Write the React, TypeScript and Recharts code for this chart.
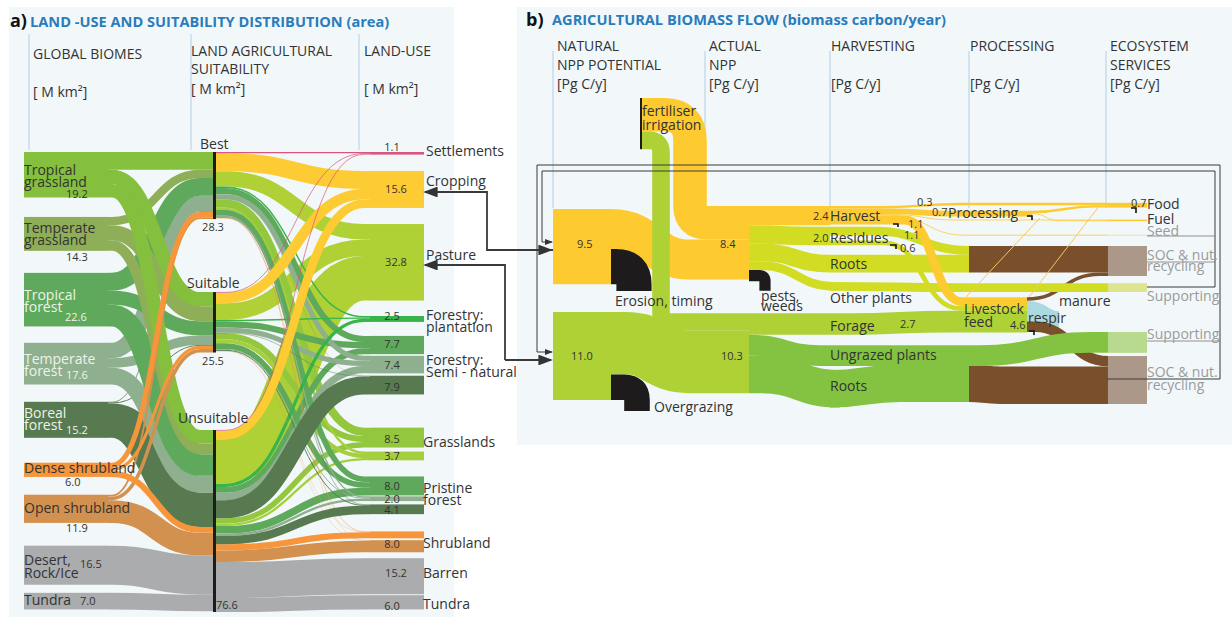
import { Sankey } from "recharts";

// ---- panel a: land use and suitability (M km2) ----
const biomes = [
  "Tropical grassland", "Temperate grassland", "Tropical forest", "Temperate forest",
  "Boreal forest", "Dense shrubland", "Open shrubland", "Desert", "Tundra",
];
const biomeToBest = [7.5, 3.5, 7.5, 6.5, 0.3, 2.2, 0.8, 0, 0];
const biomeToSuitable = [6.0, 6.3, 6.0, 4.0, 0.4, 1.3, 1.5, 0, 0];
const biomeToUnsuitable = [5.7, 4.5, 9.1, 7.1, 14.5, 2.5, 9.6, 16.5, 7.0];

const landUses = [
  "Settlements", "Cropping", "Pasture", "Plantation", "Managed tropical", "Managed temperate",
  "Managed boreal", "Grasslands", "Grasslands 2", "Pristine tropical", "Pristine temperate",
  "Pristine boreal", "Dense shrub", "Open shrub", "Barren", "Tundra land",
];
const bestToUse = [0.5, 7.6, 6.5, 0.6, 2.6, 2.1, 0.1, 3.5, 1.0, 2.4, 0.6, 0.2, 0.2, 0.1, 0, 0];
const suitableToUse = [0.3, 4.4, 7.0, 0.6, 2.6, 2.2, 0.2, 2.6, 1.7, 2.4, 0.4, 0.4, 0.1, 0.1, 0, 0];
const unsuitableToUse = [0.3, 3.6, 18.8, 1.3, 2.5, 3.1, 7.6, 2.3, 1.0, 3.2, 1.0, 3.5, 2.6, 4.9, 15.2, 6.0];

// numbers in a column are blank space, drawn as invisible nodes
const landColumns: (string | number)[][] = [
  ["Tropical grassland", 8.2, "Temperate grassland", 9.3, "Tropical forest", 6.9, "Temperate forest", 7.3,
    "Boreal forest", 10.5, "Dense shrubland", 7.5, "Open shrubland", 9.6, "Desert", 3.4, "Tundra"],
  ["Best", 30.8, "Suitable", 32.7, "Unsuitable"],
  ["Settlements", 6.9, "Cropping", 6.8, "Pasture", 6.5, "Plantation", 5.9, "Managed tropical", 0.7,
    "Managed temperate", 1, "Managed boreal", 14, "Grasslands", 1.7, "Grasslands 2", 6.8, "Pristine tropical", 0.4,
    "Pristine temperate", 1.4, "Pristine boreal", 7.3, "Dense shrub", 0.8, "Open shrub", 2.5, "Barren", 0.4, "Tundra land"],
];

const landTint: Record<string, string> = {
  "Tropical grassland": "#84bf3d", "Temperate grassland": "#8fae58", "Tropical forest": "#5fa95c",
  "Temperate forest": "#8eb08e", "Boreal forest": "#587a50", "Dense shrubland": "#f7953b",
  "Open shrubland": "#d3914f", Desert: "#aaacae", Tundra: "#aaacae",
  Best: "#1d1d1b", Suitable: "#1d1d1b", Unsuitable: "#1d1d1b",
  Settlements: "#d9547f", Cropping: "#fdcb33", Pasture: "#afd135", Plantation: "#38b44a",
  "Managed tropical": "#5fa95c", "Managed temperate": "#8eb08e", "Managed boreal": "#587a50",
  Grasslands: "#93c83e", "Grasslands 2": "#a5cf3c", "Pristine tropical": "#5fa95c",
  "Pristine temperate": "#8eb08e", "Pristine boreal": "#587a50", "Dense shrub": "#f7953b",
  "Open shrub": "#d3914f", Barren: "#aaacae", "Tundra land": "#aaacae",
};

const landFlows: [string, string, number][] = [
  ...[7, 8, 4, 3, 2, 1, 0, 6, 5].flatMap((b) => [
    [biomes[b], "Best", biomeToBest[b]],
    [biomes[b], "Suitable", biomeToSuitable[b]],
    [biomes[b], "Unsuitable", biomeToUnsuitable[b]],
  ] as [string, string, number][]),
  ...[14, 15, 2, 7, 8, 4, 5, 9, 10, 3, 13, 12, 11, 6, 1, 0].flatMap((u) => [
    ["Best", landUses[u], bestToUse[u]],
    ["Suitable", landUses[u], suitableToUse[u]],
    ["Unsuitable", landUses[u], unsuitableToUse[u]],
  ] as [string, string, number][]),
];

// ---- panel b: biomass flow (Pg C/y) ----
const hair = 0.001;
const biomassFlows: [string, string, number][] = [
  ["Fertiliser source", "Fertiliser", hair],
  ["Natural crop", "Actual crop", 5.0],
  ["Natural crop", "Erosion", 4.4],
  ["Natural pasture", "Actual pasture", 7.8],
  ["Natural pasture", "Overgrazing", 3.2],
  ["Fertiliser", "Actual crop", 4.2],
  ["Fertiliser", "Actual pasture", 2.2],
  ["Actual crop", "Harvest", 2.4],
  ["Actual crop", "Residues", 2.3],
  ["Actual crop", "Crop roots", 2.2],
  ["Actual crop", "Other plants", 1.1],
  ["Actual crop", "Pests", 1.4],
  ["Actual pasture", "Forage", 2.7],
  ["Actual pasture", "Ungrazed", 2.6],
  ["Actual pasture", "Pasture roots", 4.7],
  ["Livestock", "Respir", 2.6],
  ["Brown top", "SOC top", 3.3],
  ["Brown bottom", "SOC bottom", 4.7],
  ["Livestock", "SOC top", 0.45],
  ["Livestock", "SOC bottom", 1.3],
  ["Crop roots", "Brown top", 2.2],
  ["Residues", "Brown top", 1.1],
  ["Residues", "Residue loss", 0.6],
  ["Residues", "Livestock", 0.6],
  ["Forage", "Livestock", 2.7],
  ["Pasture roots", "Brown bottom", 4.7],
  ["Other plants", "Supporting crop", 1.1],
  ["Ungrazed", "Supporting natural", 2.6],
  ["Harvest", "Livestock", 1.1],
  ["Harvest", "Food", 0.3],
  ["Harvest", "Processing", 0.7],
  ["Harvest", "Fuel", 0.1],
  ["Harvest", "Seed", 0.1],
  ["Processing", "Food", 0.3],
  ["Processing", "Fuel", 0.1],
  ["Processing", "Seed", hair],
  ["Brown top", "Supporting crop", hair],
  ["Brown bottom", "Supporting natural", hair],
];

const biomassColumns: (string | number)[][] = [
  ["Fertiliser source", 13.875, "Natural crop", 3.475, "Natural pasture"],
  ["Fertiliser", 17.725, "Erosion", 10.6, "Overgrazing"],
  [13.5, "Actual crop", 4.0, "Actual pasture"],
  [13.5, "Harvest", 0.2, "Residues", 1.2, "Crop roots", 1.2, "Other plants", "Pests", 1.4, "Forage", 1.3,
    "Ungrazed", 0.5, "Pasture roots"],
  [14.1, "Processing", 3.7, "Brown top", "Residue loss", 2.5, "Livestock", 4, "Brown bottom"],
  [13.1, "Food", 1.5, "Fuel", 1.7, "Seed", 1.3, "SOC top", 0.9, "Supporting crop", 2.4, "Respir",
    "Supporting natural", 0.4, "SOC bottom"],
];

const yellow = "#fdca30";
const limeGreen = "#aed136";
const cropGreen = "#d2dc22";
const grassGreen = "#84c341";
const brown = "#7a4f2b";
const ink = "#1d1b1b";
const biomassTint: Record<string, string> = {
  "Natural crop": yellow, "Natural pasture": limeGreen, Fertiliser: ink, Erosion: ink, Overgrazing: ink, Pests: ink,
  "Actual crop": yellow, "Actual pasture": limeGreen, Harvest: yellow, Residues: cropGreen, "Crop roots": cropGreen,
  "Other plants": cropGreen, Forage: limeGreen, Ungrazed: grassGreen, "Pasture roots": grassGreen,
  Processing: yellow, "Brown top": brown, "Brown bottom": brown, Livestock: brown, Respir: "#acd9e0",
  Food: yellow, Fuel: yellow, Seed: "#f3d98c", "SOC top": "#ab9888", "SOC bottom": "#ab9888",
  "Supporting crop": "#dde58f", "Supporting natural": "#b7da8e",
};

// sankey data: blank space becomes invisible nodes linked column to column
function buildSankey(columns: (string | number)[][], flows: [string, string, number][], scale: number) {
  const gapSums = columns.map((col) =>
    col.reduce<number>((sum, e) => (typeof e === "number" ? sum + e : sum), 0),
  );
  const maxGap = Math.max(...gapSums);
  const filled = columns.map((col, c) => (maxGap - gapSums[c] > 1e-6 ? [...col, maxGap - gapSums[c]] : col));

  const nodes: { name: string; gap?: boolean }[] = [];
  const gaps: { id: number; size: number }[][] = [];
  const ids = new Map<string, number>();
  filled.forEach((col, c) => {
    gaps[c] = [];
    col.forEach((entry, i) => {
      const id = nodes.length;
      if (typeof entry === "number") {
        nodes.push({ name: `gap-${c}-${i}`, gap: true });
        gaps[c].push({ id, size: entry });
      } else {
        nodes.push({ name: entry });
        ids.set(entry, id);
      }
    });
  });

  const links: { source: number; target: number; value: number }[] = flows
    .filter((f) => f[2] > 0)
    .map(([s, t, value]) => ({ source: ids.get(s)!, target: ids.get(t)!, value }));

  for (let c = 0; c + 1 < gaps.length; c++) {
    const from = gaps[c];
    const to = gaps[c + 1];
    let i = 0;
    let j = 0;
    let left = from[0].size;
    let room = to[0].size;
    while (i < from.length && j < to.length) {
      const v = Math.min(left, room);
      if (v > 1e-6) links.push({ source: from[i].id, target: to[j].id, value: v });
      left -= v;
      room -= v;
      if (left <= 1e-6) { i++; left = from[i]?.size ?? 0; }
      if (room <= 1e-6) { j++; room = to[j]?.size ?? 0; }
    }
  }

  const realSums = columns.map((col) =>
    col.reduce<number>((sum, e) => {
      if (typeof e === "number") return sum;
      const id = ids.get(e);
      const inflow = links.filter((l) => l.target === id).reduce((a, l) => a + l.value, 0);
      const outflow = links.filter((l) => l.source === id).reduce((a, l) => a + l.value, 0);
      return sum + Math.max(inflow, outflow);
    }, 0),
  );
  return { data: { nodes, links }, height: scale * (Math.max(...realSums) + maxGap) };
}

const landBoxes: [number, number][] = [[24, 108], [213, 216], [370, 424]];
const biomassBoxes: [number, number][] = [[553, 611], [640, 642], [749, 749], [830, 830], [969, 969], [1108, 1147]];
const biomassBoxOverride: Record<string, [number, number]> = {
  Livestock: [1027, 1027], Processing: [1032, 1032], Respir: [1059, 1059],
  Erosion: [634, 634], Overgrazing: [637, 637], Pests: [765, 765],
};
const unseen = new Set(["Fertiliser source", "Erosion", "Overgrazing", "Pests", "Residue loss", "Respir"]);
const quarterTurns = new Set(["Erosion", "Overgrazing", "Pests"]);
const elbows: Record<string, [number, number, number]> = {
  "Fertiliser>Actual crop": [690, 26, 17],
  "Fertiliser>Actual pasture": [661, 12, 9],
};
const biomassBends: Record<string, [number, number]> = {
  "Natural crop>Actual crop": [611, 690], "Natural pasture>Actual pasture": [625, 690],
  "Actual crop>Residues": [749, 810], "Actual crop>Crop roots": [760, 830], "Actual crop>Other plants": [760, 835],
  "Actual pasture>Forage": [749, 780], "Actual pasture>Ungrazed": [749, 820], "Actual pasture>Pasture roots": [760, 840],
  "Harvest>Food": [880, 960], "Harvest>Processing": [890, 950], "Harvest>Fuel": [890, 955], "Harvest>Seed": [890, 965],
  "Harvest>Livestock": [905, 962], "Residues>Brown top": [875, 969], "Residues>Livestock": [885, 960],
  "Residues>Residue loss": [885, 960], "Other plants>Supporting crop": [830, 960], "Forage>Livestock": [850, 950],
  "Ungrazed>Supporting natural": [980, 1090], "Crop roots>Brown top": [830, 960], "Pasture roots>Brown bottom": [830, 900],
  "Brown top>SOC top": [969, 1100], "Brown bottom>SOC bottom": [969, 1000], "Livestock>SOC top": [1027, 1100],
  "Livestock>SOC bottom": [1035, 1108], "Processing>Food": [1032, 1095], "Processing>Fuel": [1032, 1060],
};

function sCurve(x0: number, y0: number, a: number, b: number, x1: number, y1: number) {
  const mid = (a + b) / 2;
  return `M${x0},${y0}H${a}C${mid},${y0} ${mid},${y1} ${b},${y1}H${x1}`;
}

function LandNode({ x, y, height, payload }: any) {
  if (payload.gap) return <g />;
  const [x0, x1] = landBoxes[payload.depth];
  return <rect x={x0} y={y} width={x1 - x0} height={height} fill={landTint[payload.name]} />;
}

function LandLink({ sourceY, targetY, linkWidth, payload }: any) {
  const s = payload.source;
  const t = payload.target;
  if (s.gap || t.gap) return <g />;
  const sx = landBoxes[s.depth][1];
  const tx = landBoxes[t.depth][0];
  const [a, b] = s.depth === 0 ? [112, 200] : [226, 364];
  const color = s.depth === 0 ? landTint[s.name] : landTint[t.name];
  return <path d={sCurve(sx, sourceY, a, b, tx, targetY)} fill="none" stroke={color} strokeWidth={linkWidth} />;
}

function biomassBox(node: any): [number, number] {
  return biomassBoxOverride[node.name] ?? biomassBoxes[node.depth];
}

function BiomassNode({ y, height, payload }: any) {
  if (payload.gap || unseen.has(payload.name)) return <g />;
  const [x0, x1] = biomassBox(payload);
  if (x1 <= x0) return <g />;
  return <rect x={x0} y={y} width={x1 - x0} height={height} fill={biomassTint[payload.name]} />;
}

function BiomassLink({ sourceY, targetY, linkWidth, payload }: any) {
  const s = payload.source;
  const t = payload.target;
  if (s.gap || t.gap || payload.value <= 0.01 || t.name === "Residue loss") return <g />;
  const sx = biomassBox(s)[1];
  const tx = biomassBox(t)[0];
  const key = `${s.name}>${t.name}`;
  const color = s.depth <= 2 || t.name === "Respir" ? biomassTint[t.name] : biomassTint[s.name];
  let d: string;
  if (quarterTurns.has(t.name)) {
    const r = linkWidth / 2;
    d = `M${sx},${sourceY}H${tx - r}Q${tx},${sourceY} ${tx},${sourceY + r}V${targetY - linkWidth / 2}`;
  } else if (elbows[key]) {
    const [ex, r1, r2] = elbows[key];
    d = `M${sx},${sourceY}H${ex - r1}Q${ex},${sourceY} ${ex},${sourceY + r1}V${targetY - r2}Q${ex},${targetY} ${ex + r2},${targetY}H${tx}`;
  } else {
    const [a, b] = biomassBends[key] ?? [sx, tx];
    d = sCurve(sx, sourceY, a, b, tx, targetY);
  }
  return <path d={d} fill="none" stroke={color} strokeWidth={linkWidth} />;
}

// text on the figure: [text, x, baseline, size, colour, anchor]
type Label = [string, number, number, number?, string?, string?];
const dark = "#333333";
const pale = "#eef3ea";
const grey = "#9a9a9a";
const headers: Label[] = [
  ["GLOBAL BIOMES", 33, 59], ["[ M km²]", 33, 97], ["LAND AGRICULTURAL", 191, 56], ["SUITABILITY", 191, 74],
  ["[ M km²]", 191, 94], ["LAND-USE", 364, 56], ["[ M km²]", 364, 94],
  ["NATURAL", 557, 51], ["NPP POTENTIAL", 557, 70], ["[Pg C/y]", 557, 89], ["ACTUAL", 709, 51], ["NPP", 709, 70],
  ["[Pg C/y]", 709, 89], ["HARVESTING", 831, 51], ["[Pg C/y]", 831, 89], ["PROCESSING", 970, 51], ["[Pg C/y]", 970, 89],
  ["ECOSYSTEM", 1110, 51], ["SERVICES", 1110, 70], ["[Pg C/y]", 1110, 89],
];
const landLabels: Label[] = [
  ["Tropical", 24, 175], ["grassland", 24, 187], ["19.2", 66, 198, 11], ["Temperate", 24, 233], ["grassland", 24, 245],
  ["14.3", 66, 261, 11], ["Tropical", 24, 300, 14, pale], ["forest", 24, 312, 14, pale], ["22.6", 65, 321, 11, pale],
  ["Temperate", 24, 364, 14, pale], ["forest", 24, 376, 14, pale], ["17.6", 66, 379, 11, pale],
  ["Boreal", 24, 418, 14, pale], ["forest", 24, 430, 14, pale], ["15.2", 66, 434, 11, pale],
  ["Dense shrubland", 24, 473], ["6.0", 65, 486, 11], ["Open shrubland", 24, 513], ["11.9", 66, 532, 11],
  ["Desert,", 24, 565], ["Rock/Ice", 24, 578], ["16.5", 80, 568, 11], ["Tundra", 24, 605], ["7.0", 80, 605, 11],
  ["Best", 200, 149], ["Suitable", 187, 288], ["Unsuitable", 178, 423], ["28.3", 213, 231, 11, dark, "middle"],
  ["25.5", 213, 365, 11, dark, "middle"], ["76.6", 216, 609, 11],
  ["1.1", 392, 151, 11, dark, "middle"], ["15.6", 396, 193, 11, dark, "middle"], ["32.8", 396, 266, 11, dark, "middle"],
  ["2.5", 392, 320, 11, dark, "middle"], ["7.7", 392, 348, 11, dark, "middle"], ["7.4", 392, 369, 11, dark, "middle"],
  ["7.9", 392, 391, 11, dark, "middle"], ["8.5", 392, 443, 11, dark, "middle"], ["3.7", 392, 460, 11, dark, "middle"],
  ["8.0", 392, 490, 11, dark, "middle"], ["2.0", 392, 503, 11, dark, "middle"], ["4.1", 392, 514, 11, dark, "middle"],
  ["8.0", 392, 548, 11, dark, "middle"], ["15.2", 396, 577, 11, dark, "middle"], ["6.0", 392, 610, 11, dark, "middle"],
  ["Settlements", 426, 156], ["Cropping", 426, 186], ["Pasture", 426, 260], ["Forestry:", 426, 320], ["plantation", 426, 332],
  ["Forestry:", 426, 365], ["Semi - natural", 426, 377], ["Grasslands", 423, 447], ["Pristine", 423, 493], ["forest", 423, 505],
  ["Shrubland", 423, 548], ["Barren", 423, 578], ["Tundra", 423, 609],
];
const biomassLabels: Label[] = [
  ["9.5", 577, 248, 11], ["8.4", 720, 248, 11], ["11.0", 571, 360, 11], ["10.3", 721, 360, 11],
  ["fertiliser", 642, 116], ["irrigation", 642, 130], ["Erosion, timing", 615, 306], ["pests,", 761, 301], ["weeds", 761, 311],
  ["Overgrazing", 654, 412], ["2.4", 813, 220, 11], ["Harvest", 830, 221], ["2.0", 813, 242, 11], ["Residues", 830, 243],
  ["Roots", 830, 269], ["Other plants", 830, 303], ["Forage", 830, 331], ["2.7", 900, 328, 11], ["Ungrazed plants", 830, 360],
  ["Roots", 830, 391], ["0.3", 917, 206, 11], ["0.7", 932, 216, 11], ["Processing", 948, 218], ["1.1", 908, 228, 11],
  ["1.1", 904, 239, 11], ["0.6", 900, 252, 11], ["Livestock", 964, 314], ["feed", 964, 327], ["4.6", 1010, 329, 11],
  ["respir", 1028, 323], ["manure", 1059, 306], ["0.7", 1131, 207, 11], ["Food", 1147, 209], ["Fuel", 1147, 224],
  ["Seed", 1147, 236, 14, grey], ["SOC & nut.", 1147, 260, 14, grey], ["recycling", 1147, 271, 14, grey],
  ["Supporting", 1147, 301, 14, grey], ["Supporting", 1147, 339, 14, grey], ["SOC & nut.", 1147, 377, 14, grey],
  ["recycling", 1147, 390, 14, grey],
];
const guideXs = [29, 191, 359];
const biomassGuideXs = [553, 705, 830, 969, 1106];

const land = buildSankey(landColumns, landFlows, 2.37);
const biomass = buildSankey(biomassColumns, biomassFlows, 8);

function Texts({ items, size = 14 }: { items: Label[]; size?: number }) {
  return (
    <>
      {items.map(([text, x, y, s, color, anchor], i) => (
        <text key={i} x={x} y={y} fontSize={s ?? size} fill={color ?? dark} textAnchor={anchor ?? "start"}>
          {text}
        </text>
      ))}
    </>
  );
}

export default function App() {
  return (
    <div style={{ position: "absolute", left: 0, top: 0, width: 1232, height: 617, overflow: "hidden", background: "#fff", fontFamily: "'Open Sans', sans-serif" }}>
      <div style={{ position: "absolute", left: 9, top: 7, width: 445, height: 610, background: "#f2f8fa" }} />
      <div style={{ position: "absolute", left: 517, top: 7, width: 715, height: 438, background: "#f2f8fa" }} />

      <svg width={1232} height={617} style={{ position: "absolute", left: 0, top: 0 }}>
        {guideXs.map((x) => <line key={x} x1={x} x2={x} y1={34} y2={150} stroke="#bcd4e8" strokeWidth={1.2} />)}
        {biomassGuideXs.map((x) => <line key={x} x1={x} x2={x} y1={51} y2={208} stroke="#bcd4e8" strokeWidth={1.2} />)}
      </svg>

      <div style={{ position: "absolute", left: 0, top: 152 }}>
        <Sankey width={520} height={land.height} data={land.data} nodeWidth={1} nodePadding={0} iterations={0}
          sort={false} align="left" verticalAlign="top" margin={{ top: 0, right: 0, bottom: 0, left: 0 }}
          node={(p: any) => <LandNode {...p} />} link={(p: any) => <LandLink {...p} />} />
      </div>
      <div style={{ position: "absolute", left: 0, top: 98 }}>
        <Sankey width={1232} height={biomass.height} data={biomass.data} nodeWidth={1} nodePadding={0} iterations={0}
          sort={false} align="left" verticalAlign="top" margin={{ top: 0, right: 0, bottom: 0, left: 0 }}
          node={(p: any) => <BiomassNode {...p} />} link={(p: any) => <BiomassLink {...p} />} />
      </div>

      <svg width={1232} height={617} style={{ position: "absolute", left: 0, top: 0 }}>
        <defs>
          <marker id="tip" markerWidth={8} markerHeight={6} refX={7} refY={3} orient="auto">
            <path d="M0,0L8,3L0,6z" fill="#333" />
          </marker>
        </defs>
        <text x={10} y={27} fontSize={18} fontWeight={700} fill="#111">a)</text>
        <text x={30} y={27} fontSize={14.6} fontWeight={700} fill="#2b7cba">LAND -USE AND SUITABILITY DISTRIBUTION (area)</text>
        <text x={526} y={26} fontSize={18} fontWeight={700} fill="#111">b)</text>
        <text x={552} y={25} fontSize={14.6} fontWeight={700} fill="#2b7cba">AGRICULTURAL BIOMASS FLOW  (biomass carbon/year)</text>

        {/* return paths to the natural NPP blocks */}
        <g fill="none" stroke="#3a3a3a">
          <path d="M553,250H487V192H425" strokeWidth={1.8} markerEnd="url(#tip)" />
          <path d="M505,360V265H425" strokeWidth={1.8} markerEnd="url(#tip)" />
          <path d="M505,360H551" strokeWidth={1.8} markerEnd="url(#tip)" />
          <path d="M487,250H551" strokeWidth={1.8} markerEnd="url(#tip)" />
          <path d="M1147,287H1215V171H542V242H552" strokeWidth={1} markerEnd="url(#tip)" />
          <path d="M1107,379H1220V165H537V352H552" strokeWidth={1} markerEnd="url(#tip)" />
          <path d="M1147,236H1215M1147,262H1215M1147,341H1220" strokeWidth={0.8} stroke="#777" />
        </g>
        {/* by-product hairlines and small losses */}
        <g fill="none" stroke="#f3c860" strokeWidth={1}>
          <path d="M966,297L1040,218" />
          <path d="M1029,297L1100,205" />
        </g>
        <g fill="none" stroke="#111" strokeWidth={1.6}>
          <path d="M1027,216h5v4" /><path d="M1131,208h5v5" /><path d="M893,224h5v3" /><path d="M890,245h6v4" />
          <path d="M1029,331h5v4" />
        </g>

        <Texts items={headers} />
        <Texts items={landLabels} />
        <Texts items={biomassLabels} />
      </svg>
    </div>
  );
}
